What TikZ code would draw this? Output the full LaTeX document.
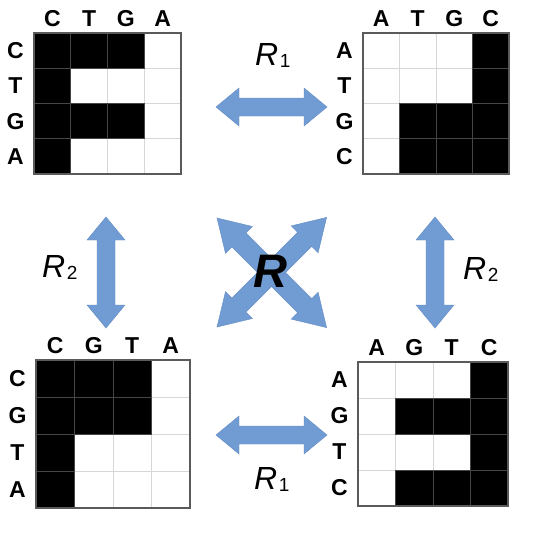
\documentclass[tikz,border=0pt]{standalone}
\usepackage{fontspec}
\setmainfont{Liberation Sans}
\definecolor{arrowblue}{RGB}{112,156,211}
\definecolor{arrowedge}{RGB}{98,140,198}
\definecolor{gridlight}{RGB}{215,215,215}
\definecolor{gridframe}{RGB}{90,90,90}
\definecolor{celledge}{RGB}{70,70,70}
\tikzset{
 thinline/.style={draw=gridlight, line width=0.9pt},
 blackcell/.style={fill=black, draw=celledge, line width=0.8pt},
 gridborder/.style={draw=gridframe, line width=1.3pt},
 baselabel/.style={font=\fontsize{23}{23}\selectfont\bfseries, inner sep=0pt},
 arrowshape/.style={fill=arrowblue, draw=arrowedge, line width=0.4pt},
 pics/dblarrow/.style n args={4}{code={
   \path[arrowshape] (0,0) -- (#2,#3) -- (#2,#4) -- ({#1-#2},#4) -- ({#1-#2},#3) -- (#1,0)
     -- ({#1-#2},-#3) -- ({#1-#2},-#4) -- (#2,-#4) -- (#2,-#3) -- cycle;
 }},
}
\newcommand\dnagrid[8]{%
 \begin{scope}[shift={(#2,#3)}]
  \fill[white] (0,0) rectangle ({4*#4},{4*#5});
  \foreach \ii in {1,2,3} {
    \draw[thinline] ({\ii*#4},0) -- ({\ii*#4},{4*#5});
    \draw[thinline] (0,{\ii*#5}) -- ({4*#4},{\ii*#5});
  }
  \foreach \cc/\rr in {#6} \path[blackcell] ({\cc*#4},{\rr*#5}) rectangle ++(#4,#5);
  \path[gridborder] (0,0) rectangle ({4*#4},{4*#5});
  \foreach \lab [count=\k from 0] in {#7} \node[baselabel] (#1c\k) at ({(\k+0.5)*#4},-14.5) {\lab};
  \foreach \lab [count=\k from 0] in {#8} \node[baselabel] (#1r\k) at (-18.5,{(\k+0.5)*#5}) {\lab};
 \end{scope}}
\newcommand\rlabel[1]{{\fontsize{32}{32}\selectfont\itshape R}\kern1.5pt\raisebox{-2pt}{\fontsize{19}{19}\selectfont #1}}
\begin{document}
\begin{tikzpicture}[x=1pt,y=-1pt]
\useasboundingbox (0,0) rectangle (543,544);
\fill[white] (0,0) rectangle (543,544);
% grids
\dnagrid{tl}{34}{33}{36.75}{35.25}{0/0,1/0,2/0,0/1,0/2,1/2,2/2,0/3}{C,T,G,A}{C,T,G,A}
\dnagrid{tr}{363}{33}{36.5}{35.25}{3/0,3/1,1/2,2/2,3/2,1/3,2/3,3/3}{A,T,G,C}{A,T,G,C}
\dnagrid{bl}{36}{360}{38.5}{37}{0/0,1/0,2/0,0/1,1/1,2/1,0/2,0/3}{C,G,T,A}{C,G,T,A}
\dnagrid{br}{358}{362}{37.5}{36}{3/0,1/1,2/1,3/1,3/2,1/3,2/3,3/3}{A,G,T,C}{A,G,T,C}
% arrows
\pic (atop) at (216,107) {dblarrow={111}{23}{19}{9}};
\pic (abot) at (216,435) {dblarrow={111}{23}{19}{9}};
\pic[rotate=-90] (aleft) at (106,217) {dblarrow={111}{23}{19}{9}};
\pic[rotate=-90] (aright) at (435,217) {dblarrow={111}{23}{19}{9}};
\pic[rotate=-45] (adiag1) at (217,218) {dblarrow={155}{31}{19}{10}};
\pic[rotate=45] (adiag2) at (217,327) {dblarrow={155}{31}{19}{10}};
% labels
\node[anchor=base west, inner sep=0pt] (r1top) at (255,65) {\rlabel{1}};
\node[anchor=base west, inner sep=0pt] (r1bot) at (254,489) {\rlabel{1}};
\node[anchor=base west, inner sep=0pt] (r2left) at (42,277) {\rlabel{2}};
\node[anchor=base west, inner sep=0pt] (r2right) at (463,279) {\rlabel{2}};
\node[anchor=base west, inner sep=0pt] (bigr) at (253,287) {\fontsize{47}{47}\selectfont\bfseries\itshape R};
\end{tikzpicture}
\end{document}
